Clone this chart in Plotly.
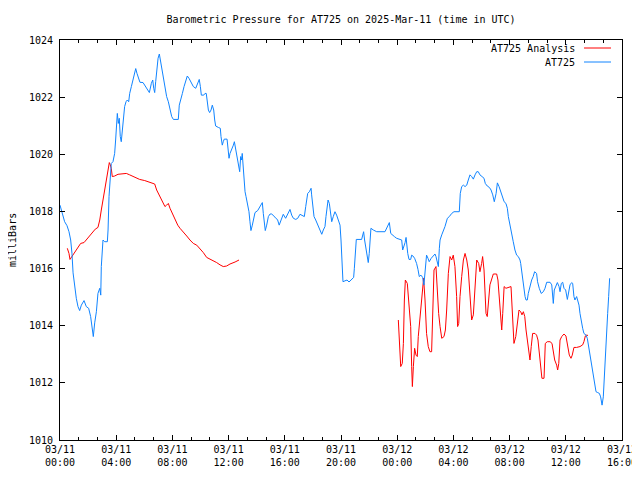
import plotly.graph_objects as go
import pandas as pd

# ---------------- data ----------------
START = "2025-03-11 00:00"
TICK_HOURS = [0, 4, 8, 12, 16, 20, 24, 28, 32, 36, 40]
Y_TICKS = [1010, 1012, 1014, 1016, 1018, 1020, 1022, 1024]

station_hours = [
    0.0, 0.14, 0.33, 0.5, 0.64, 0.76, 0.85, 0.93, 1.04, 1.16, 1.28, 1.4, 1.52, 1.71, 1.87, 2.04,
    2.18, 2.28, 2.37, 2.47, 2.59, 2.7, 2.83, 2.9, 2.94, 3.06, 3.18, 3.37, 3.42, 3.49, 3.58, 3.65,
    3.77, 3.89, 3.96, 4.03, 4.08, 4.15, 4.22, 4.29, 4.36, 4.44, 4.51, 4.6, 4.7, 4.79, 4.89, 4.96,
    5.08, 5.2, 5.31, 5.39, 5.48, 5.6, 5.69, 5.91, 6.07, 6.22, 6.36, 6.5, 6.6, 6.67, 6.74, 6.81,
    6.88, 6.98, 7.07, 7.14, 7.24, 7.35, 7.45, 7.59, 7.71, 7.83, 7.95, 8.07, 8.42, 8.49, 8.59, 8.71,
    8.83, 8.94, 9.06, 9.18, 9.32, 9.49, 9.66, 9.77, 9.84, 9.91, 9.99, 10.06, 10.23, 10.32, 10.41,
    10.48, 10.56, 10.65, 10.75, 10.84, 10.94, 11.01, 11.08, 11.27, 11.41, 11.46, 11.55, 11.62,
    11.69, 11.89, 11.96, 12.03, 12.1, 12.22, 12.34, 12.41, 12.51, 12.58, 12.65, 12.72, 12.79,
    12.86, 12.93, 12.97, 13.02, 13.07, 13.17, 13.24, 13.33, 13.45, 13.52, 13.59, 13.69, 13.79,
    13.88, 14.07, 14.23, 14.4, 14.47, 14.54, 14.61, 14.71, 14.83, 14.95, 15.07, 15.3, 15.49, 15.6,
    15.73, 15.89, 16.06, 16.2, 16.37, 16.49, 16.61, 16.78, 16.92, 17.08, 17.25, 17.39, 17.49,
    17.56, 17.63, 17.75, 17.87, 17.91, 17.98, 18.08, 18.2, 18.31, 18.43, 18.56, 18.63, 18.74,
    18.86, 18.93, 19.0, 19.08, 19.17, 19.24, 19.34, 19.45, 19.57, 19.69, 19.81, 19.93, 20.0,
    20.05, 20.09, 20.14, 20.28, 20.43, 20.57, 20.71, 20.9, 20.95, 21.02, 21.09, 21.47, 21.54,
    21.61, 21.68, 21.76, 21.83, 21.9, 21.94, 22.01, 22.06, 22.13, 22.3, 22.54, 23.13, 23.25,
    23.37, 23.44, 23.54, 23.65, 23.8, 23.96, 24.2, 24.32, 24.39, 24.48, 24.56, 24.63, 24.68,
    24.75, 24.84, 24.96, 25.03, 25.12, 25.24, 25.38, 25.48, 25.57, 25.69, 25.81, 25.9, 26.0,
    26.09, 26.19, 26.28, 26.42, 26.57, 26.69, 26.76, 26.85, 26.93, 27.0, 27.05, 27.17, 27.28,
    27.4, 27.57, 27.71, 27.88, 28.04, 28.42, 28.49, 28.59, 28.71, 28.83, 28.95, 29.06, 29.18,
    29.3, 29.42, 29.54, 29.66, 29.77, 29.89, 30.04, 30.18, 30.27, 30.41, 30.56, 30.68, 30.8,
    30.91, 31.04, 31.13, 31.25, 31.37, 31.49, 31.61, 31.74, 31.84, 31.91, 32.03, 32.15, 32.26,
    32.38, 32.5, 32.62, 32.74, 32.79, 32.86, 32.98, 33.1, 33.17, 33.26, 33.33, 33.45, 33.57,
    33.68, 33.78, 33.92, 33.99, 34.11, 34.25, 34.4, 34.52, 34.64, 34.88, 35.0, 35.07, 35.11,
    35.18, 35.28, 35.4, 35.52, 35.59, 35.68, 35.78, 35.87, 35.99, 36.11, 36.21, 36.3, 36.42,
    36.49, 36.58, 36.65, 36.77, 36.84, 36.94, 37.01, 37.1, 37.2, 37.29, 37.44, 37.53, 37.63,
    37.72, 37.84, 37.96, 38.06, 38.15, 38.27, 38.39, 38.48, 38.58, 38.67, 38.75, 38.84, 38.91,
    38.98, 39.05, 39.12,
]
station_mb = [
    1018.22, 1017.93, 1017.64, 1017.5, 1017.29, 1017.0, 1016.54, 1015.85, 1015.37, 1014.96,
    1014.67, 1014.53, 1014.72, 1014.88, 1014.67, 1014.61, 1014.32, 1013.97, 1013.62, 1014.1,
    1014.49, 1015.13, 1015.31, 1015.07, 1016.07, 1017.0, 1016.94, 1016.94, 1017.35, 1018.52,
    1019.33, 1019.68, 1019.74, 1020.03, 1020.5, 1021.2, 1021.43, 1021.08, 1021.26, 1020.62,
    1020.44, 1020.85, 1021.2, 1021.67, 1021.84, 1021.9, 1021.84, 1022.13, 1022.37, 1022.6,
    1022.89, 1023.0, 1022.83, 1022.66, 1022.52, 1022.51, 1022.37, 1022.25, 1022.16, 1022.48,
    1022.6, 1022.31, 1022.16, 1022.54, 1022.95, 1023.36, 1023.51, 1023.3, 1023.07, 1022.72,
    1022.48, 1022.02, 1021.84, 1021.61, 1021.32, 1021.22, 1021.22, 1021.72, 1021.96, 1022.13,
    1022.37, 1022.6, 1022.74, 1022.66, 1022.54, 1022.37, 1022.31, 1022.48, 1022.54, 1022.62,
    1022.37, 1022.07, 1022.07, 1022.13, 1022.13, 1021.9, 1021.55, 1021.46, 1021.55, 1021.72,
    1021.55, 1021.2, 1020.99, 1020.94, 1020.91, 1020.62, 1020.32, 1020.44, 1020.53, 1020.53,
    1020.21, 1019.86, 1020.03, 1020.15, 1020.32, 1020.44, 1020.15, 1019.92, 1019.68, 1019.45,
    1019.39, 1019.92, 1019.8, 1020.03, 1019.63, 1019.1, 1018.69, 1018.52, 1018.28, 1017.99,
    1017.64, 1017.33, 1017.52, 1017.76, 1017.96, 1018.03, 1018.17, 1018.31, 1017.93, 1017.49,
    1017.33, 1017.52, 1017.82, 1017.91, 1017.91, 1017.8, 1017.7, 1017.52, 1017.7, 1017.9,
    1017.76, 1017.93, 1018.07, 1017.87, 1017.76, 1017.72, 1017.76, 1017.9, 1017.84, 1017.82,
    1018.17, 1018.46, 1018.63, 1018.69, 1018.81, 1018.58, 1018.28, 1017.82, 1017.7, 1017.58,
    1017.41, 1017.26, 1017.2, 1017.35, 1017.47, 1017.82, 1018.17, 1018.4, 1018.28, 1017.99,
    1017.64, 1017.82, 1017.99, 1017.87, 1017.7, 1017.52, 1017.0, 1016.53, 1016.01, 1015.54,
    1015.57, 1015.6, 1015.53, 1015.6, 1015.69, 1016.01, 1016.65, 1017.02, 1017.02, 1017.17,
    1017.29, 1017.0, 1016.77, 1016.53, 1016.39, 1016.21, 1016.53, 1017.12, 1017.41, 1017.35,
    1017.29, 1017.29, 1017.41, 1017.52, 1017.61, 1017.23, 1017.17, 1017.12, 1017.06, 1017.02,
    1017.0, 1016.65, 1016.77, 1016.91, 1017.09, 1016.77, 1016.53, 1016.32, 1016.32, 1016.47,
    1016.44, 1016.36, 1016.18, 1015.97, 1015.72, 1015.77, 1015.69, 1015.42, 1015.95, 1016.47,
    1016.36, 1016.24, 1016.36, 1016.44, 1016.51, 1016.42, 1016.24, 1016.07, 1016.71, 1017.0,
    1017.18, 1017.29, 1017.47, 1017.76, 1017.82, 1017.93, 1017.99, 1017.99, 1018.63, 1018.87,
    1018.92, 1018.87, 1018.92, 1019.1, 1019.28, 1019.22, 1019.13, 1019.28, 1019.39, 1019.39,
    1019.28, 1019.22, 1019.16, 1018.98, 1018.89, 1018.84, 1018.75, 1018.58, 1018.34, 1018.63,
    1019.0, 1018.87, 1018.69, 1018.52, 1018.34, 1018.28, 1018.11, 1017.82, 1017.47, 1017.23,
    1016.94, 1016.65, 1016.47, 1016.42, 1016.3, 1016.18, 1015.9, 1015.37, 1015.02, 1014.9,
    1014.9, 1015.13, 1015.43, 1015.6, 1015.72, 1015.89, 1015.83, 1015.54, 1015.31, 1015.13,
    1015.19, 1015.31, 1015.52, 1015.52, 1015.43, 1015.13, 1014.78, 1015.25, 1015.37, 1015.51,
    1015.37, 1015.19, 1015.48, 1015.52, 1015.31, 1015.25, 1014.92, 1015.19, 1015.43, 1015.51,
    1015.48, 1015.02, 1014.9, 1015.02, 1014.9, 1014.72, 1014.43, 1014.14, 1013.91, 1013.73,
    1013.67, 1013.56, 1013.27, 1013.03, 1012.68, 1012.33, 1011.98, 1011.69, 1011.66, 1011.63,
    1011.51, 1011.22, 1011.51, 1012.16, 1013.03, 1013.73, 1014.43, 1015.02, 1015.66,
]

analysis1_hours = [
    0.52, 0.64, 0.71, 0.85, 1.0, 1.16, 1.33, 1.47, 1.71, 1.87, 2.11, 2.35, 2.51, 2.7, 2.83, 2.94,
    3.06, 3.18, 3.3, 3.42, 3.51, 3.58, 3.65, 3.72, 3.89, 4.13, 4.48, 4.72, 4.96, 5.31, 5.67, 6.03,
    6.38, 6.74, 6.88, 7.1, 7.33, 7.47, 7.59, 7.71, 7.83, 7.99, 8.19, 8.38, 8.54, 8.78, 9.02, 9.25,
    9.49, 9.73, 9.96, 10.2, 10.44, 10.68, 10.91, 11.15, 11.39, 11.62, 11.86, 12.1, 12.46, 12.74,
]
analysis1_mb = [
    1016.71, 1016.53, 1016.32, 1016.42, 1016.53, 1016.67, 1016.79, 1016.88, 1016.91, 1017.0,
    1017.14, 1017.29, 1017.38, 1017.44, 1017.7, 1018.05, 1018.4, 1018.75, 1019.1, 1019.51,
    1019.71, 1019.63, 1019.51, 1019.22, 1019.24, 1019.3, 1019.33, 1019.33, 1019.28, 1019.19,
    1019.12, 1019.08, 1019.01, 1018.96, 1018.75, 1018.52, 1018.28, 1018.17, 1018.22, 1018.28,
    1018.11, 1017.93, 1017.7, 1017.52, 1017.41, 1017.29, 1017.14, 1017.0, 1016.88, 1016.82,
    1016.71, 1016.56, 1016.39, 1016.33, 1016.28, 1016.21, 1016.13, 1016.07, 1016.09, 1016.16,
    1016.23, 1016.3,
]

analysis2_hours = [
    24.08, 24.13, 24.2, 24.25, 24.36, 24.44, 24.51, 24.58, 24.72, 24.84, 24.96, 25.03, 25.08,
    25.15, 25.24, 25.34, 25.43, 25.5, 25.62, 25.74, 25.81, 25.88, 25.98, 26.09, 26.21, 26.33,
    26.45, 26.52, 26.62, 26.76, 26.85, 26.95, 27.05, 27.17, 27.33, 27.43, 27.52, 27.64, 27.76,
    27.88, 27.99, 28.11, 28.23, 28.3, 28.38, 28.47, 28.59, 28.71, 28.83, 28.95, 29.06, 29.18,
    29.3, 29.42, 29.54, 29.66, 29.8, 29.89, 30.01, 30.08, 30.18, 30.25, 30.32, 30.41, 30.51,
    30.6, 30.84, 31.08, 31.17, 31.27, 31.37, 31.44, 31.51, 31.61, 31.74, 31.91, 32.1, 32.15,
    32.22, 32.31, 32.44, 32.55, 32.67, 32.79, 32.88, 32.98, 33.08, 33.17, 33.26, 33.36, 33.45,
    33.54, 33.64, 33.81, 33.92, 34.02, 34.11, 34.21, 34.3, 34.45, 34.54, 34.68, 34.88, 35.02,
    35.11, 35.21, 35.35, 35.42, 35.5, 35.59, 35.71, 35.87, 36.01, 36.13, 36.25, 36.37, 36.46,
    36.58, 36.77, 37.01, 37.2, 37.29, 37.39, 37.48, 37.58,
]
analysis2_mb = [
    1014.2, 1013.73, 1012.97, 1012.57, 1012.68, 1013.38, 1014.9, 1015.6, 1015.48, 1014.84,
    1013.97, 1012.57, 1011.87, 1012.57, 1013.21, 1012.97, 1012.92, 1013.62, 1014.32, 1014.78,
    1015.37, 1015.66, 1014.9, 1013.73, 1013.27, 1013.09, 1013.09, 1014.78, 1015.95, 1016.07,
    1015.25, 1014.43, 1013.97, 1013.56, 1013.62, 1013.85, 1014.55, 1015.83, 1016.42, 1016.3,
    1016.47, 1016.07, 1015.02, 1013.97, 1014.08, 1015.02, 1015.72, 1016.3, 1016.53, 1016.3,
    1015.95, 1015.02, 1014.2, 1014.38, 1015.48, 1016.3, 1016.18, 1015.89, 1016.18, 1016.42,
    1015.95, 1015.13, 1014.43, 1014.32, 1015.02, 1015.43, 1015.81, 1015.81, 1015.6, 1015.02,
    1014.43, 1013.85, 1014.43, 1015.37, 1015.31, 1015.34, 1015.37, 1014.9, 1013.97, 1013.38,
    1013.62, 1014.08, 1014.55, 1014.49, 1014.38, 1014.49, 1014.32, 1013.85, 1013.5, 1013.03,
    1012.8, 1013.27, 1013.73, 1013.73, 1013.67, 1013.5, 1013.03, 1012.57, 1012.16, 1012.16,
    1013.38, 1013.44, 1013.44, 1013.38, 1013.15, 1012.8, 1012.62, 1012.45, 1012.68, 1013.5,
    1013.62, 1013.71, 1013.64, 1013.27, 1012.97, 1012.86, 1012.97, 1013.24, 1013.24, 1013.27,
    1013.33, 1013.44, 1013.64, 1013.67, 1013.66,
]

TITLE = "Barometric Pressure for AT725 on 2025-Mar-11 (time in UTC)"
Y_LABEL = "milliBars"
NAME_ANALYSIS = "AT725 Analysis"
NAME_STATION = "AT725"

# ---------------- build ----------------
t0 = pd.Timestamp(START)


def to_time(hours):
    return [None if h is None else t0 + pd.Timedelta(hours=h) for h in hours]


RED = "#ff0000"
BLUE = "#1084ff"
FONT = "DejaVu Sans Mono"

analysis_hours = analysis1_hours + [None] + analysis2_hours
analysis_mb = analysis1_mb + [None] + analysis2_mb

fig = go.Figure()
fig.add_trace(go.Scatter(x=to_time(analysis_hours), y=analysis_mb, mode="lines",
                         name=NAME_ANALYSIS, line=dict(color=RED, width=1),
                         connectgaps=False))
fig.add_trace(go.Scatter(x=to_time(station_hours), y=station_mb, mode="lines",
                         name=NAME_STATION, line=dict(color=BLUE, width=1)))

tick_times = to_time(TICK_HOURS)
tick_text = [t.strftime("%m/%d") + "<br>" + t.strftime("%H:%M") for t in tick_times]

# the page places the figure 8px from the top-left corner (default body margin)
OFF = 8
W, H = 640 - OFF, 480 - OFF
PL, PR, PT, PB = 60, 622, 40, 440          # plot area in page pixels
L, R, T, B = PL - OFF, 640 - PR, PT - OFF, 480 - PB


def px(x):
    return (x - PL) / (PR - PL)


def py(y):
    return 1 - (y - PT) / (PB - PT)


fig.update_layout(
    width=W, height=H,
    margin=dict(l=L, r=R, t=T, b=B, pad=0, autoexpand=False),
    paper_bgcolor="white", plot_bgcolor="white",
    font=dict(family=FONT, size=10, color="black"),
    showlegend=False,
    title=dict(text=TITLE, x=0.5, xref="paper", xanchor="center",
               y=1 - (19 - OFF) / H, yref="container", yanchor="middle", automargin=False,
               font=dict(family=FONT, size=10, color="black")),
)

fig.update_xaxes(
    range=[tick_times[0], tick_times[-1]], automargin=False,
    tickmode="array", tickvals=tick_times, ticktext=tick_text,
    ticks="inside", ticklen=5, tickwidth=1, tickcolor="black",
    showline=True, linecolor="black", linewidth=1, mirror="ticks",
    showgrid=False, zeroline=False,
    minor=dict(ticks="inside", ticklen=3, tickwidth=1, tickcolor="black",
               dtick=80 * 60 * 1000, tick0=tick_times[0], showgrid=False),
    tickfont=dict(family=FONT, size=10, color="black"),
)
fig.update_yaxes(
    range=[Y_TICKS[0], Y_TICKS[-1]], automargin=False,
    tickmode="array", tickvals=Y_TICKS, ticktext=[str(v) for v in Y_TICKS],
    ticks="inside", ticklen=5, tickwidth=1, tickcolor="black",
    showline=True, linecolor="black", linewidth=1, mirror="ticks",
    showgrid=False, zeroline=False,
    tickfont=dict(family=FONT, size=10, color="black"),
    ticklabelstandoff=4,
)

# y-axis label
fig.add_annotation(text=Y_LABEL, xref="paper", yref="paper", x=px(12), y=py(240),
                   xanchor="center", yanchor="middle", textangle=-90, showarrow=False,
                   font=dict(family=FONT, size=10, color="black"))

# key (text right-aligned, line sample on the right as in the original)
for name, color, ypix in [(NAME_ANALYSIS, RED, 48), (NAME_STATION, BLUE, 62)]:
    fig.add_annotation(text=name, xref="paper", yref="paper", x=px(577), y=py(ypix),
                       xanchor="right", yanchor="middle", showarrow=False,
                       font=dict(family=FONT, size=10, color="black"))
    fig.add_shape(type="line", xref="paper", yref="paper",
                  x0=px(584), x1=px(611), y0=py(ypix), y1=py(ypix),
                  line=dict(color=color, width=1))

fig.write_html("out.html")
